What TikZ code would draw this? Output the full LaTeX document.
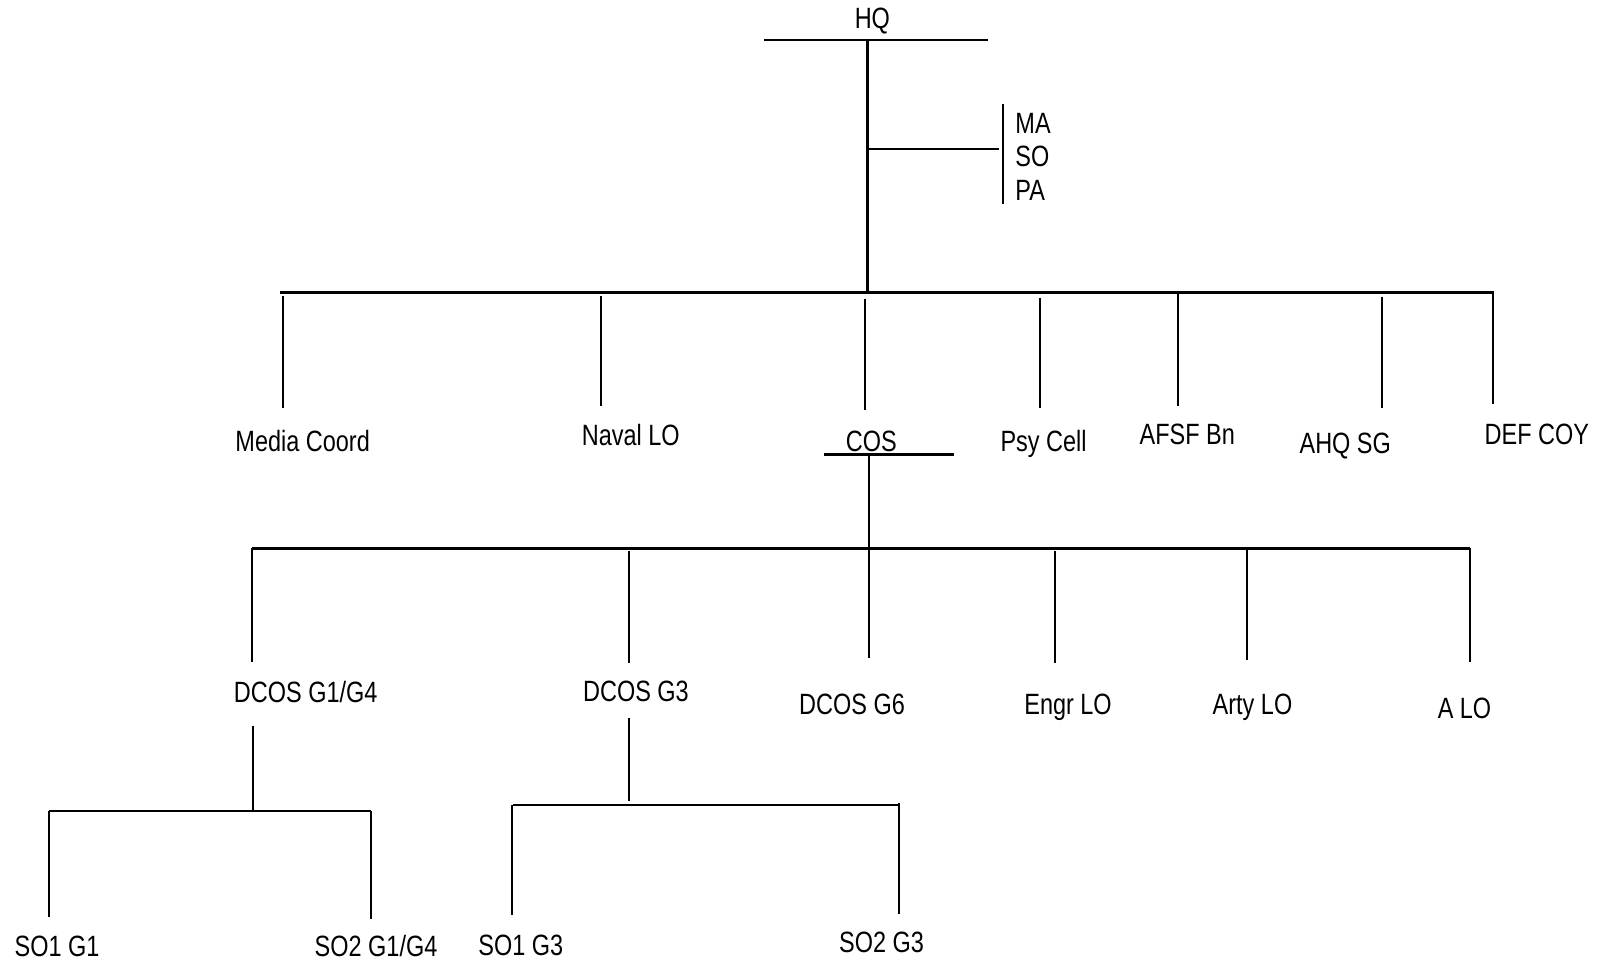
\documentclass[tikz,border=0pt]{standalone}
\usepackage{fontspec}
\setmainfont[FakeStretch=0.8]{Liberation Sans}
\usetikzlibrary{positioning}
\tikzset{
  lbl/.style={font=\fontsize{14.4}{17}\selectfont, inner sep=0pt, anchor=base},
  bus/.style={line width=1.2pt},
  drop/.style={line width=1pt},
}
\begin{document}
\begin{tikzpicture}[x=0.5pt,y=-0.5pt]
\useasboundingbox (0,0) rectangle (1568,947);
% headquarters
\node[lbl] (hq) at (856,28) {HQ};
\coordinate (hqL) at (750,39);
\coordinate (hqR) at (969,39);
\draw[bus] (hqL) -- (hqR);
\coordinate (trunkT) at (851,39);
\coordinate (trunkB) at (851,287);
\draw[bus] (trunkT) -- (trunkB);
% staff on the side
\coordinate (maJ) at (851,146);
\coordinate (maE) at (980,146);
\draw[drop] (maJ) -- (maE);
\coordinate (maT) at (984,102);
\coordinate (maB) at (984,200);
\draw[drop] (maT) -- (maB);
\node[lbl, anchor=base west] (ma) at (996,131) {MA};
\node[lbl, anchor=base west] (so) at (996,163) {SO};
\node[lbl, anchor=base west] (pa) at (996,197) {PA};
% first level
\coordinate (busAL) at (275,287);
\coordinate (busAR) at (1466,287);
\draw[bus] (busAL) -- (busAR);
\foreach \n/\x/\a/\b in {mc/278/290/400, nlo/590/290/398, cos/849/293/402,
    psy/1020/292/400, afsf/1156/288/398, ahq/1356/291/400, def/1465/287/396}
  {\draw[drop] (\x,\a) coordinate (\n T) -- (\x,\b) coordinate (\n B);}
\node[lbl] (media) at (297,443) {Media Coord};
\node[lbl] (naval) at (619,437) {Naval LO};
\node[lbl] (cos) at (855,443) {COS};
\node[lbl] (psy) at (1024,443) {Psy Cell};
\node[lbl] (afsf) at (1165,436) {AFSF Bn};
\node[lbl] (ahq) at (1320,445) {AHQ SG};
\node[lbl] (defcoy) at (1508,436) {DEF COY};
% chief of staff
\coordinate (cosL) at (809,446);
\coordinate (cosR) at (936,446);
\draw[bus] (cosL) -- (cosR);
\coordinate (cosJ) at (853,446);
\coordinate (busB) at (853,538);
\draw[drop] (cosJ) -- (busB);
\coordinate (busBL) at (247,538);
\coordinate (busBR) at (1442,538);
\draw[bus] (busBL) -- (busBR);
\foreach \n/\x/\a/\b in {dg1/247/538/650, dg3/617/541/651, dg6/853/538/646,
    engr/1035/541/651, arty/1224/538/648, alo/1442/538/650}
  {\draw[drop] (\x,\a) coordinate (\n T) -- (\x,\b) coordinate (\n B);}
\node[lbl] (dcosa) at (300,689) {DCOS G1/G4};
\node[lbl] (dcosb) at (624,688) {DCOS G3};
\node[lbl] (dcosc) at (836,701) {DCOS G6};
\node[lbl] (engr) at (1048,701) {Engr LO};
\node[lbl] (arty) at (1229,701) {Arty LO};
\node[lbl] (alo) at (1437,705) {A LO};
% G1/G4 branch
\coordinate (g1T) at (248,712);
\coordinate (g1J) at (248,796);
\draw[drop] (g1T) -- (g1J);
\coordinate (g1L) at (48,796);
\coordinate (g1R) at (364,796);
\draw[bus] (g1L) -- (g1R);
\draw[drop] (g1L) -- (48,900) coordinate (s1B);
\draw[drop] (g1R) -- (364,902) coordinate (s2B);
\node[lbl] (soa) at (56,939) {SO1 G1};
\node[lbl] (sob) at (369,939) {SO2 G1/G4};
% G3 branch
\coordinate (g3T) at (617,705);
\coordinate (g3J) at (617,786);
\draw[drop] (g3T) -- (g3J);
\coordinate (g3L) at (503,790);
\coordinate (g3R) at (883,790);
\draw[bus] (g3L) -- (g3R);
\draw[drop] (502,790) coordinate (s3T) -- (502,898) coordinate (s3B);
\draw[drop] (882,788) coordinate (s4T) -- (882,897) coordinate (s4B);
\node[lbl] (soc) at (511,938) {SO1 G3};
\node[lbl] (sod) at (865,935) {SO2 G3};
\end{tikzpicture}
\end{document}
